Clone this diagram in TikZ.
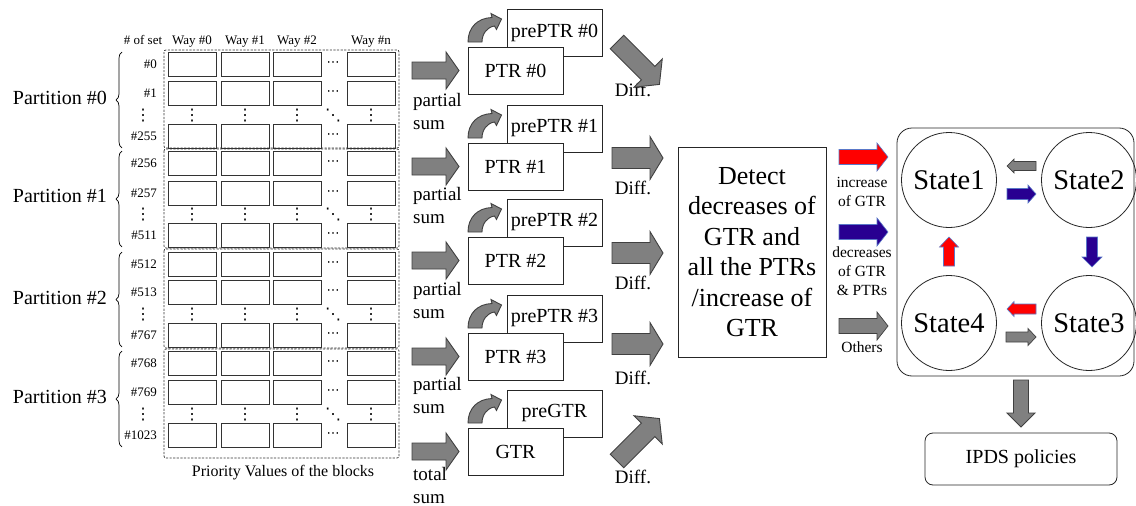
\documentclass[tikz,border=0pt]{standalone}
\usepackage{fontspec}
\setmainfont{Liberation Serif}
\newfontfamily\symfont{DejaVu Sans}
\usetikzlibrary{decorations.pathreplacing}

\definecolor{arrgray}{RGB}{128,128,128}
\definecolor{arredge}{RGB}{64,64,64}
\definecolor{hotred}{RGB}{255,0,0}
\definecolor{deepblue}{RGB}{40,0,145}
\definecolor{rimblue}{RGB}{90,120,200}

\newcommand\fsz[2]{\fontsize{#1pt}{#2pt}\selectfont}

\tikzset{
  % straight block arrow along +x: length, body width, head width, head length
  pics/blockarrow/.style n args={4}{code={
    \path[pic actions] (0,-#2/2) -- (#1-#4,-#2/2) -- (#1-#4,-#3/2) -- (#1,0)
      -- (#1-#4,#3/2) -- (#1-#4,#2/2) -- (0,#2/2) -- cycle;}},
  % curved "store" arrow from a register to its previous value
  pics/turnarrow/.style={code={
    \path[pic actions] (0,0) .. controls (0,-15) and (10,-24) .. (24,-24.5)
      -- (23,-28.5) -- (33.5,-23) -- (28.5,-12.5) -- (26.5,-16)
      .. controls (19,-15) and (14,-8) .. (14,0) -- cycle;}},
  grayarrow/.style={fill=arrgray, draw=arredge, line width=0.9pt, line join=miter},
  redarrow/.style={fill=hotred, draw=rimblue, line width=0.6pt},
  bluearrow/.style={fill=deepblue, draw=rimblue, line width=0.6pt},
  cell/.style={draw=black!80, line width=0.9pt, minimum width=48pt, minimum height=24pt, inner sep=0pt},
  partbox/.style={draw=black!80, line width=0.7pt, dash pattern=on 2.2pt off 1.4pt, rounded corners=2pt},
  regbox/.style={draw=black!85, line width=0.8pt, fill=white, minimum width=95pt, minimum height=47pt, inner sep=0pt, font=\fsz{20}{24}},
  txt/.style={inner sep=0pt, font=\fsz{#1}{#1}},
  dotg/.style={inner sep=0pt, font=\symfont\fsz{16}{16}},
  hdotg/.style={inner sep=0pt, font=\symfont\fsz{13}{13}},
  state/.style={circle, draw=black!85, line width=0.8pt, minimum size=95pt, inner sep=0pt, font=\fsz{28.5}{30}},
}

\begin{document}
\begin{tikzpicture}[x=1pt,y=-1pt]
\useasboundingbox (0,0) rectangle (1136,506);
\fill[white] (0,0) rectangle (1136,506);

% ---------------- priority value table ----------------
\node[txt=13, anchor=base] (hset) at (143,44.5) {\# of set};
\foreach \c/\cx/\wl in {0/192/Way \#0,1/245/Way \#1,2/297/Way \#2,3/371/Way \#n}
  \node[txt=13, anchor=base] (way\c) at (\cx,44.5) {\wl};

\foreach \p/\T/\B/\ra/\rb/\rc/\la/\lb/\lc/\ly in {
  0/50/148/52/81/124/\#0/\#1/\#255/98,
  1/149/248/151/181/223/\#256/\#257/\#511/196,
  2/249/348/252/280/323/\#512/\#513/\#767/298,
  3/349/458/351/380/423/\#768/\#769/\#1023/397}
{
  \draw[partbox] (164,\T) rectangle (399,\B);
  \foreach \c/\cx in {0/192,1/245,2/297,3/371} {
    \node[cell] (cell\p-a\c) at (\cx,\ra+12) {};
    \node[cell] (cell\p-b\c) at (\cx,\rb+12) {};
    \node[cell] (cell\p-c\c) at (\cx,\rc+12) {};
    \node[dotg] (vd\p-\c) at (\cx,{(\rb+24+\rc)/2+1}) {⋮};
  }
  \node[hdotg] (hda\p) at (333,\ra+12) {⋯};
  \node[hdotg] (hdb\p) at (333,\rb+12) {⋯};
  \node[hdotg] (hdc\p) at (333,\rc+12) {⋯};
  \node[dotg] (dd\p) at (333,{(\rb+24+\rc)/2+1}) {⋱};
  \node[dotg] (vl\p) at (143,{(\rb+24+\rc)/2+1}) {⋮};
  \node[txt=13, anchor=east] (sa\p) at (157,\ra+12) {\la};
  \node[txt=13, anchor=east] (sb\p) at (157,\rb+12) {\lb};
  \node[txt=13, anchor=east] (sc\p) at (157,\rc+12) {\lc};
  \draw[line width=0.7pt, decorate, decoration={brace, amplitude=6pt}]
    (122,\rc+24) -- (122,\ra);
  \node[txt=20, anchor=east] (part\p) at (107,\ly) {Partition \#\p};
}
\node[txt=16] (tcap) at (283,473) {Priority Values of the blocks};

% ---------------- registers ----------------
\foreach \k/\pt/\lab/\plab/\sy/\stxt/\dy in {
  0/47/PTR \#0/prePTR \#0/111/partial/90,
  1/143/PTR \#1/prePTR \#1/205/partial/188,
  2/237/PTR \#2/prePTR \#2/300/partial/283,
  3/333/PTR \#3/prePTR \#3/395/partial/378,
  4/428/GTR/preGTR/485/total/477}
{
  \node[regbox] (pre\k) at (554.5,\pt-14.5) {\plab};
  \node[regbox] (reg\k) at (515.5,\pt+23.5) {\lab};
  \pic[grayarrow] (turn\k) at (468,\pt-5) {turnarrow};
  \pic[grayarrow] (in\k) at (412,\pt+23.5) {blockarrow={47}{17}{37}{13}};
  \node[txt=19, anchor=west, align=left, font=\fsz{19}{23}] (sum\k) at (413,\sy) {\stxt\\sum};
  \node[txt=19] (dl\k) at (633,\dy) {Diff.};
}

% difference arrows into the detector
\pic[grayarrow, rotate=-45] (diff0) at (617,42) {blockarrow={60}{19}{40}{16}};
\pic[grayarrow] (diff1) at (612,158) {blockarrow={51}{21}{43}{13}};
\pic[grayarrow] (diff2) at (612,253) {blockarrow={51}{21}{43}{13}};
\pic[grayarrow] (diff3) at (612,344) {blockarrow={51}{21}{43}{13}};
\pic[grayarrow, rotate=45] (diff4) at (617,461) {blockarrow={60}{19}{40}{16}};

% ---------------- detector ----------------
\node[draw=black!85, line width=0.8pt, minimum width=148pt, minimum height=210pt,
      inner sep=0pt, align=center, font=\fsz{26}{30.5}] (detect) at (752,252)
  {Detect\\decreases of\\GTR and\\all the PTRs\\/increase of\\GTR};

\pic[redarrow] (oinc) at (839,157) {blockarrow={49}{15}{28}{11}};
\pic[bluearrow] (odec) at (839,232) {blockarrow={49}{15}{28}{11}};
\pic[grayarrow, line width=0.7pt] (oothers) at (839,326) {blockarrow={49}{15}{28}{11}};
\node[align=center, inner sep=0pt, font=\fsz{15.5}{19}] (linc) at (862,192) {increase\\of GTR};
\node[align=center, inner sep=0pt, font=\fsz{15.5}{19}] (ldec) at (862,271) {decreases\\of GTR\\\& PTRs};
\node[txt=15.5] (loth) at (862,347) {Others};

% ---------------- state machine ----------------
\node[draw=black!85, line width=0.8pt, rounded corners=15pt, minimum width=237pt,
      minimum height=248pt, inner sep=0pt] (fsm) at (1015.5,252) {};
\node[state] (s1) at (949,180) {State1};
\node[state] (s2) at (1089,180) {State2};
\node[state] (s3) at (1089,323) {State3};
\node[state] (s4) at (949,323) {State4};

\pic[grayarrow, line width=0.7pt, rotate=180] (a21) at (1036,166) {blockarrow={29}{9}{14}{7}};
\pic[bluearrow] (a12) at (1007,194) {blockarrow={29}{11}{18}{8}};
\pic[bluearrow, rotate=-90] (a23) at (1092,237) {blockarrow={30}{11}{20}{10}};
\pic[redarrow, rotate=90] (a41) at (949,266) {blockarrow={29}{11}{19}{10}};
\pic[redarrow, rotate=180] (a34) at (1036,309) {blockarrow={29}{10}{15}{7}};
\pic[grayarrow, line width=0.7pt] (a43) at (1006,337) {blockarrow={30}{10}{17}{8}};

\pic[grayarrow, rotate=-90] (apol) at (1021,380) {blockarrow={47}{15}{28}{14}};
\node[draw=black!85, line width=0.8pt, rounded corners=8pt, minimum width=192pt,
      minimum height=52pt, inner sep=0pt, font=\fsz{20}{24}] (ipds) at (1021,459) {IPDS policies};
\end{tikzpicture}
\end{document}
